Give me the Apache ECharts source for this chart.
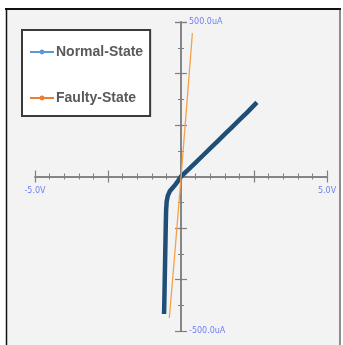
<!DOCTYPE html>
<html>
<head>
<meta charset="utf-8">
<script src="https://cdn.jsdelivr.net/npm/echarts@6/dist/echarts.min.js"></script>
<style>html,body{margin:0;padding:0;background:#fff}#c{width:343px;height:345px}</style>
</head>
<body>
<div id="c"></div>
<script>
// Normal-State: voltage (V) and current (uA)
var normalV = [-0.58,-0.57,-0.56,-0.55,-0.54,-0.53,-0.52,-0.51,-0.49,-0.45,-0.38,-0.29,-0.20,-0.10,0.00,0.25,0.50,0.75,1.00,1.25,1.50,1.75,2.00,2.25,2.60];
var normalI = [-445,-400,-350,-300,-250,-200,-150,-110,-80,-62,-47,-37,-27,-14,0,22,45,68,91,114,137,160,183,206,240];
// Faulty-State
var faultyV = [-0.40,-0.20,0.00,0.20,0.39];
var faultyI = [-458,-235,-3,235,464];
var seriesNames = ['Normal-State','Faulty-State'];
var xMin = -5, xMax = 5, yMin = -500, yMax = 500;
var xLabels = {'-5':'-5.0V','5':'5.0V'};
var yLabels = {'-500':'-500.0uA','500':'500.0uA'};

function pairs(a,b){return a.map(function(v,i){return [v,b[i]];});}

var W = 343, H = 345;
var G = {left:35, right:16, top:22, bottom:14};
var gridW = W - G.left - G.right, gridH = H - G.top - G.bottom;
var axisColor = '#7f7f7f';
var labelColor = '#6f7ff2';
var chart = echarts.init(document.getElementById('c'), null, {renderer:'canvas'});
function xAxisCfg(inside, labels){
  return {
    type:'value', min:xMin, max:xMax, interval:2.5, position:'bottom', offset:-gridH/2,
    axisLine:{show:true, onZero:false, lineStyle:{color:axisColor, width:1.5}},
    axisTick:{show:true, inside:inside, length:6, lineStyle:{color:axisColor, width:1.2}},
    minorTick:{show:true, splitNumber:5, length:3, lineStyle:{color:axisColor, width:1}},
    splitLine:{show:false}, minorSplitLine:{show:false},
    axisLabel:{show:labels, margin:10, color:labelColor, fontFamily:'DejaVu Sans', fontSize:8,
      showMinLabel:true, showMaxLabel:true,
      formatter:function(v){var k=String(Math.round(v*100)/100);return xLabels[k]||'';}}
  };
}
function yAxisCfg(inside, labels){
  return {
    type:'value', min:yMin, max:yMax, interval:500/3, position:'left', offset:-gridW/2,
    axisLine:{show:true, onZero:false, lineStyle:{color:axisColor, width:1.5}},
    axisTick:{show:true, inside:inside, length:6, lineStyle:{color:axisColor, width:1.2}},
    minorTick:{show:true, splitNumber:2, length:3, lineStyle:{color:axisColor, width:1}},
    splitLine:{show:false}, minorSplitLine:{show:false},
    axisLabel:{show:labels, inside:true, margin:8, color:labelColor, fontFamily:'DejaVu Sans', fontSize:8,
      showMinLabel:true, showMaxLabel:true,
      formatter:function(v){var k=String(Math.round(v));return yLabels[k]||'';}}
  };
}
chart.setOption({
  animation:false,
  backgroundColor:'#f3f3f3',
  grid:{left:G.left, right:G.right, top:G.top, bottom:G.bottom},
  xAxis:[xAxisCfg(false,true), xAxisCfg(true,false)],
  yAxis:[yAxisCfg(false,true), yAxisCfg(true,false)],
  legend:{
    left:22, top:30, orient:'vertical',
    padding:[15,7,11,7], itemGap:32, itemWidth:24, itemHeight:6,
    backgroundColor:'#ffffff', borderColor:'#3a3a3a', borderWidth:2,
    textStyle:{fontFamily:'Liberation Sans', fontWeight:'bold', fontSize:14, color:'#595959', padding:[0,0,0,-3]},
    data:[
      {name:seriesNames[0], itemStyle:{color:'#5b9bd5'}, lineStyle:{color:'#5b9bd5', width:2}},
      {name:seriesNames[1], itemStyle:{color:'#ed7d31'}, lineStyle:{color:'#ed7d31', width:2}}
    ]
  },
  graphic:[
    {type:'rect', shape:{x:0,y:0,width:343,height:8}, style:{fill:'#ffffff'}, silent:true},
    {type:'rect', shape:{x:0,y:0,width:6,height:345}, style:{fill:'#ffffff'}, silent:true},
    {type:'rect', shape:{x:340,y:0,width:3,height:345}, style:{fill:'#ffffff'}, silent:true},
    {type:'line', shape:{x1:5,y1:9,x2:341,y2:9}, style:{stroke:'#111', lineWidth:2}, silent:true},
    {type:'line', shape:{x1:6.5,y1:8,x2:6.5,y2:345}, style:{stroke:'#111', lineWidth:1.5}, silent:true},
    {type:'line', shape:{x1:340,y1:8,x2:340,y2:345}, style:{stroke:'#222', lineWidth:1}, silent:true}
  ],
  series:[
    {name:seriesNames[0], type:'line', xAxisIndex:0, yAxisIndex:0, data:pairs(normalV,normalI),
     symbol:'circle', symbolSize:4, showSymbol:false, lineStyle:{color:'#1f4e79', width:4.5}, itemStyle:{color:'#1f4e79'}, z:3},
    {name:seriesNames[1], type:'line', xAxisIndex:0, yAxisIndex:0, data:pairs(faultyV,faultyI),
     symbol:'circle', symbolSize:4, showSymbol:false, lineStyle:{color:'#f5a14a', width:1.3}, itemStyle:{color:'#f5a14a'}, z:4}
  ]
});
</script>
</body>
</html>
